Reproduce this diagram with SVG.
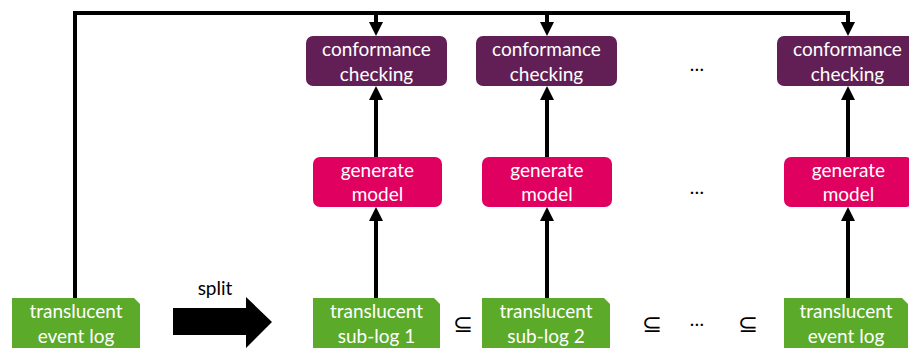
<svg xmlns="http://www.w3.org/2000/svg" width="909" height="348" viewBox="0 0 909 348">
<defs>
<marker id="ah" markerUnits="userSpaceOnUse" markerWidth="14" markerHeight="14" viewBox="0 0 14 14" refX="0" refY="7" orient="auto">
<path d="M0,0 L14,7 L0,14 Z" fill="#000"/>
</marker>
</defs>
<style>
.conn{stroke:#000;stroke-width:4;fill:none}
.cc{fill:#621F55}
.gm{fill:#E0005F}
.lg{fill:#5BAA2A}
text{font-family:Lato,"Liberation Sans",sans-serif;font-size:19px;fill:#fff;text-anchor:middle}
.blk{fill:#000}
.sub{font-size:24px}
</style>
<g id="connectors">
<path class="conn" d="M75,298 V13 H848 V22" marker-end="url(#ah)"/>
<path class="conn" d="M376,13 V22" marker-end="url(#ah)"/>
<path class="conn" d="M547,13 V22" marker-end="url(#ah)"/>
<path class="conn" d="M376,157 V100" marker-end="url(#ah)"/>
<path class="conn" d="M547,157 V100" marker-end="url(#ah)"/>
<path class="conn" d="M848,157 V100" marker-end="url(#ah)"/>
<path class="conn" d="M376,298 V221" marker-end="url(#ah)"/>
<path class="conn" d="M547,298 V221" marker-end="url(#ah)"/>
<path class="conn" d="M848,298 V221" marker-end="url(#ah)"/>
<path id="split-arrow" d="M173,308 H246 V297 L272,322 L246,348 V335 H173 Z" fill="#000"/>
</g>
<g id="cc1"><rect class="cc" x="306" y="36" width="141" height="50" rx="7"/><text x="376.5" y="56">conformance</text><text x="376.5" y="81">checking</text></g>
<g id="cc2"><rect class="cc" x="476" y="36" width="141" height="50" rx="7"/><text x="546.5" y="56">conformance</text><text x="546.5" y="81">checking</text></g>
<g id="cc3"><rect class="cc" x="777" y="36" width="141" height="50" rx="7"/><text x="847.5" y="56">conformance</text><text x="847.5" y="81">checking</text></g>
<g id="gm1"><rect class="gm" x="313" y="157" width="129" height="50" rx="7"/><text x="377.5" y="177">generate</text><text x="377.5" y="201">model</text></g>
<g id="gm2"><rect class="gm" x="482" y="157" width="130" height="50" rx="7"/><text x="547" y="177">generate</text><text x="547" y="201">model</text></g>
<g id="gm3"><rect class="gm" x="784" y="157" width="129" height="50" rx="7"/><text x="848.5" y="177">generate</text><text x="848.5" y="201">model</text></g>
<g id="log"><path class="lg" d="M12,298 H134 L140,304 V354 H18 L12,348 Z"/><text x="76" y="318">translucent</text><text x="76" y="343">event log</text></g>
<g id="sub1"><path class="lg" d="M313,298 H434 L440,304 V354 H319 L313,348 Z"/><text x="376.5" y="318">translucent</text><text x="376.5" y="343">sub-log 1</text></g>
<g id="sub2"><path class="lg" d="M482,298 H604 L610,304 V354 H488 L482,348 Z"/><text x="546" y="318">translucent</text><text x="546" y="343">sub-log 2</text></g>
<g id="log2"><path class="lg" d="M784,298 H902 L908,304 V354 H790 L784,348 Z"/><text x="846" y="318">translucent</text><text x="846" y="343">event log</text></g>
<g id="labels">
<text class="blk" x="215" y="295">split</text>
<text class="blk sub" x="463" y="332">⊆</text>
<text class="blk sub" x="652" y="332">⊆</text>
<text class="blk" x="697" y="326">…</text>
<text class="blk sub" x="748" y="332">⊆</text>
<text class="blk" x="697" y="71">…</text>
<text class="blk" x="697" y="194">…</text>
</g>
</svg>
